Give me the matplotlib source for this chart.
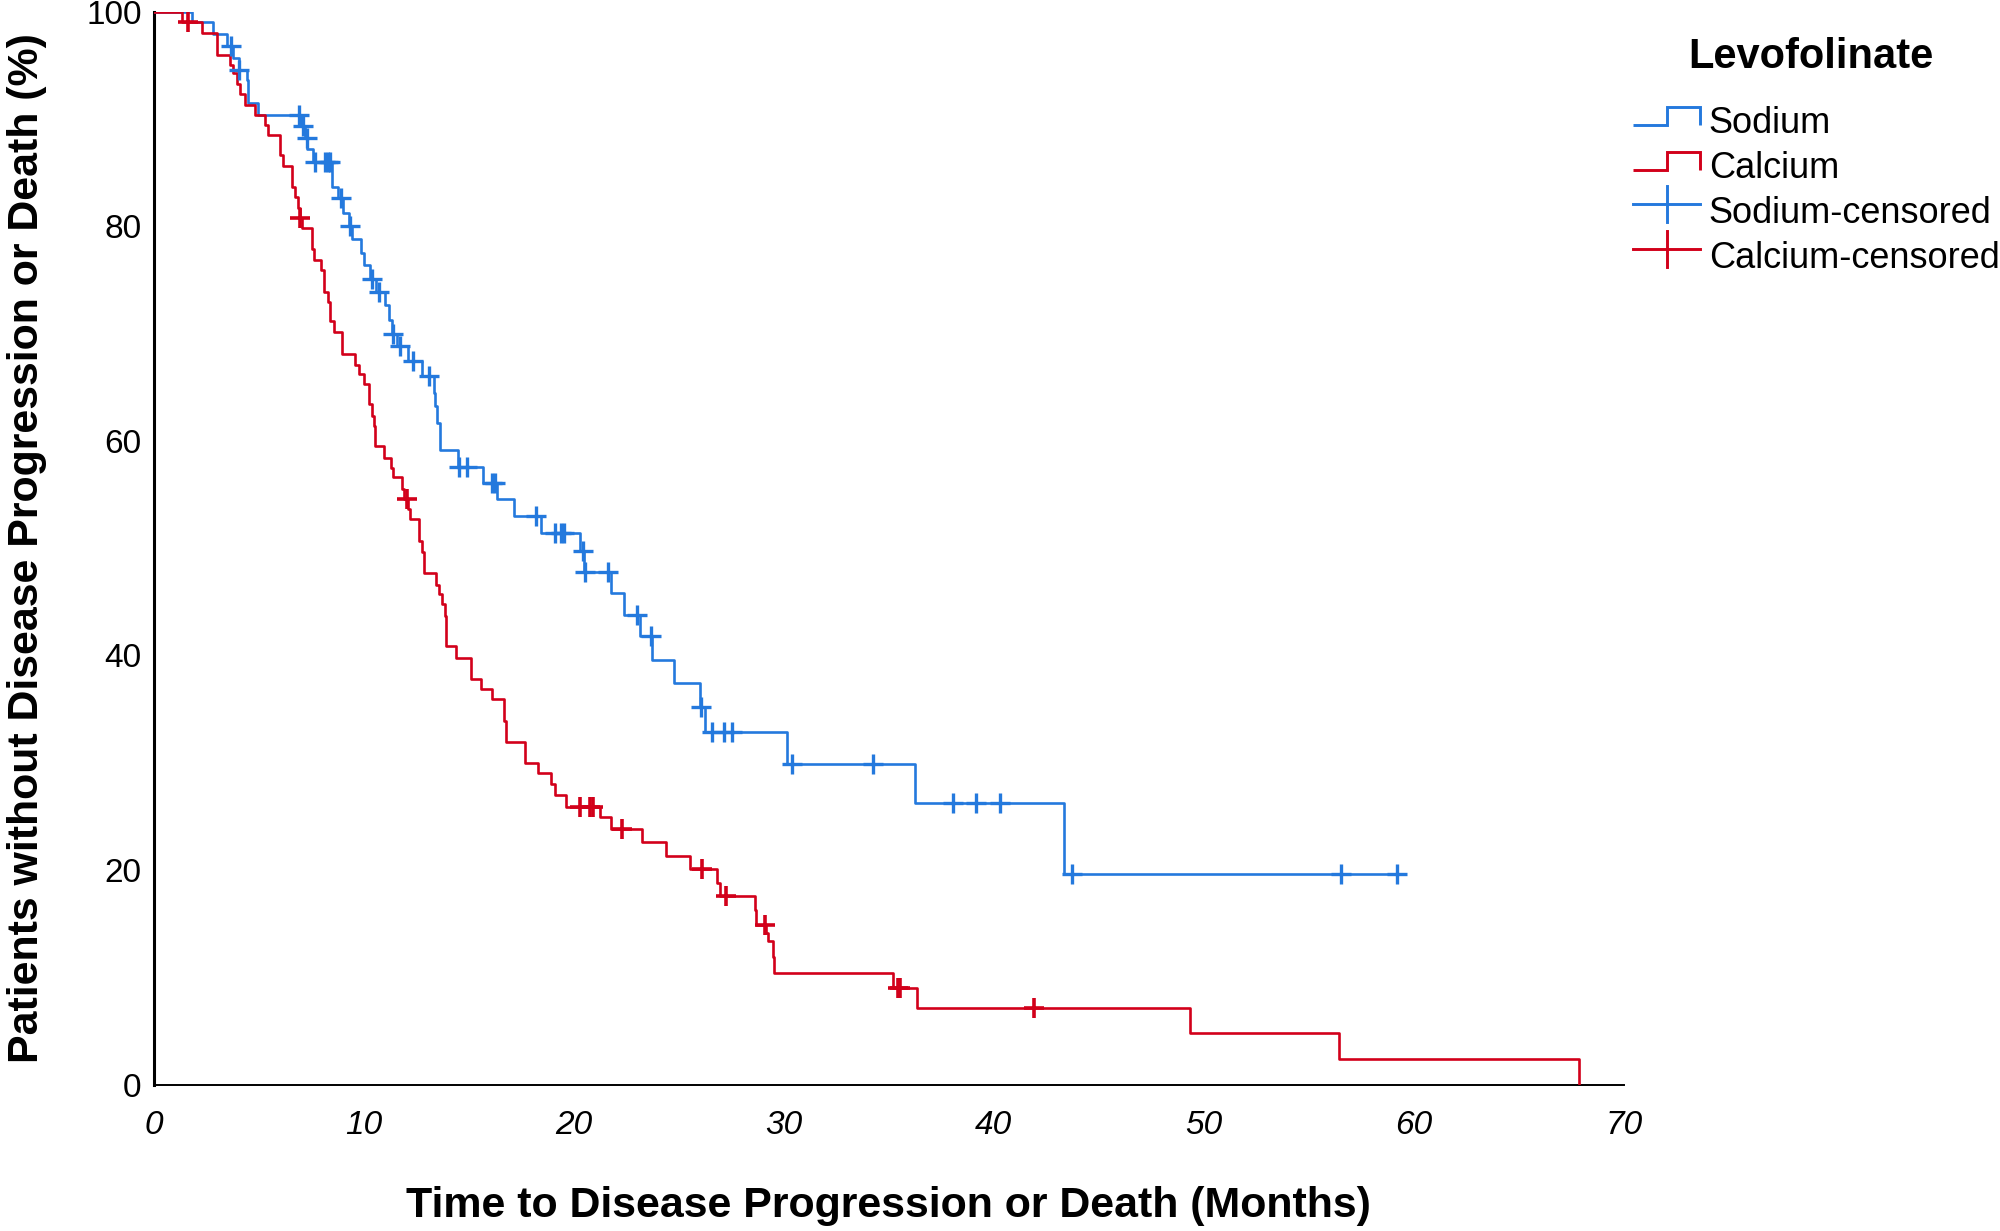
import numpy as np
import matplotlib
matplotlib.use("Agg")
import matplotlib.pyplot as plt
from matplotlib.legend_handler import HandlerBase
from matplotlib.lines import Line2D

plt.rcParams['font.family'] = ['Liberation Sans', 'DejaVu Sans']

# ---------------- data ----------------
# Sodium levofolinate: event times (months) and survival level after each step (%)
sodium_time = [0, 1.82, 2.85, 3.52, 3.80, 4.05, 4.44, 4.52, 4.99, 7.00, 7.20, 7.33,
               7.60, 8.48, 8.80, 9.04, 9.30, 9.45, 9.87, 10.0, 10.3, 10.6, 11.0,
               11.2, 11.35, 11.6, 12.1, 12.8, 13.35, 13.42, 13.5, 13.63, 14.49,
               15.67, 16.34, 17.18, 18.46, 20.31, 20.50, 21.80, 22.40, 23.14,
               23.72, 24.76, 26.0, 26.23, 30.16, 36.25, 43.35, 59.17]
sodium_surv = [100, 99.0, 97.9, 96.8, 95.7, 94.6, 93.6, 91.5, 90.4, 89.35, 88.26, 87.17,
               86.0, 83.7, 82.6, 81.2, 80.06, 78.8, 77.5, 76.4, 75.1, 73.9, 72.7,
               71.3, 70.0, 68.8, 67.4, 66.0, 64.5, 63.2, 61.7, 59.1, 57.6,
               56.1, 54.6, 53.0, 51.4, 49.7, 47.8, 45.8, 43.8, 41.8,
               39.6, 37.4, 35.2, 32.9, 29.9, 26.2, 19.6, 19.6]
sodium_censored = [3.68, 4.09, 6.94, 7.13, 7.29, 7.69, 8.17, 8.30, 8.40, 8.93, 9.36,
                   10.39, 10.75, 11.38, 11.75, 12.37, 13.13, 14.55, 14.94, 16.12,
                   16.27, 18.22, 19.13, 19.40, 19.55, 20.45, 20.55, 21.64, 23.02,
                   23.67, 26.06, 26.60, 27.15, 27.55, 30.40, 34.24, 38.05, 39.17,
                   40.31, 43.73, 56.53, 59.17]

# Calcium levofolinate
calcium_time = [0, 1.34, 2.29, 3.01, 3.64, 3.80, 3.96, 4.12, 4.36, 4.83, 5.31, 5.47,
                6.02, 6.15, 6.60, 6.75, 6.90, 6.95, 7.06, 7.55, 7.65, 7.95, 8.10,
                8.30, 8.40, 8.60, 8.95, 9.60, 9.80, 10.0, 10.25, 10.38, 10.51,
                10.56, 10.98, 11.29, 11.42, 11.84, 11.93, 12.11, 12.20, 12.66,
                12.79, 12.88, 13.43, 13.57, 13.72, 13.88, 13.94, 14.39, 15.12,
                15.58, 16.09, 16.67, 16.80, 17.67, 18.31, 18.91, 19.13, 19.63,
                21.23, 21.77, 23.25, 24.39, 25.55, 26.82, 26.95, 28.64, 28.70,
                29.17, 29.25, 29.48, 29.55, 35.20, 36.34, 49.36, 56.42, 67.85]
calcium_surv = [100, 99.0, 98.0, 96.0, 95.0, 94.3, 93.3, 92.3, 91.3, 90.4, 89.4, 88.5,
                86.6, 85.6, 83.7, 82.7, 81.7, 80.8, 79.8, 77.9, 76.9, 75.9, 73.9,
                72.9, 71.2, 70.1, 68.1, 67.1, 66.2, 65.3, 63.4, 62.3, 61.4,
                59.5, 58.4, 57.5, 56.6, 55.5, 54.6, 53.6, 52.7, 50.7,
                49.6, 47.7, 46.6, 45.7, 44.8, 43.7, 40.9, 39.8, 37.8,
                36.9, 35.9, 33.9, 31.9, 30.0, 29.0, 28.0, 27.0, 25.9,
                24.9, 23.8, 22.6, 21.3, 20.1, 18.8, 17.6, 16.3, 14.9,
                14.1, 13.4, 11.9, 10.4, 9.0, 7.1, 4.8, 2.4, 0.0]
calcium_censored = [1.64, 6.98, 12.06, 20.30, 20.80, 20.90, 22.30, 26.10, 27.25,
                    29.12, 35.42, 35.52, 41.90]

x_ticks = [0, 10, 20, 30, 40, 50, 60, 70]
y_ticks = [0, 20, 40, 60, 80, 100]

series_names = ["Sodium", "Calcium", "Sodium-censored", "Calcium-censored"]
legend_title = "Levofolinate"
x_label = "Time to Disease Progression or Death (Months)"
y_label = "Patients without Disease Progression or Death (%)"

BLUE = '#2479DD'
RED = '#D2001A'


def level_at(times, surv, t):
    times = np.asarray(times)
    idx = np.searchsorted(times, t, side='right') - 1
    return np.asarray(surv)[idx]


# ---------------- legend handlers ----------------
class StepHandler(HandlerBase):
    def create_artists(self, legend, orig_handle, xdescent, ydescent, width,
                       height, fontsize, trans):
        x0, y0 = -xdescent, -ydescent
        lo, hi = y0 + 0.33 * height, y0 + 1.04 * height
        xs = [x0, x0 + 0.5 * width, x0 + 0.5 * width, x0 + width, x0 + width]
        ys = [lo, lo, hi, hi, lo]
        ln = Line2D(xs, ys, color=orig_handle.get_color(), lw=2.1,
                    solid_joinstyle='miter', solid_capstyle='butt', transform=trans)
        return [ln]


class CensorHandler(HandlerBase):
    def create_artists(self, legend, orig_handle, xdescent, ydescent, width,
                       height, fontsize, trans):
        x0, y0 = -xdescent, -ydescent
        c = orig_handle.get_markeredgecolor()
        h = Line2D([x0, x0 + width], [y0 + 0.75 * height] * 2, color=c, lw=2.1,
                   transform=trans)
        v = Line2D([x0 + 0.5 * width] * 2, [y0 + 0.02 * height, y0 + 1.46 * height],
                   color=c, lw=2.1, transform=trans)
        return [h, v]


# ---------------- figure ----------------
fig = plt.figure(figsize=(20, 12.31), dpi=100)
ax = fig.add_axes([0.07675, 0.119, 0.7353, 0.8715])

s_line, = ax.step(sodium_time, sodium_surv, where='post', color=BLUE, lw=1.9, zorder=3)
c_line, = ax.step(calcium_time, calcium_surv, where='post', color=RED, lw=1.9, zorder=3)

s_cens, = ax.plot(sodium_censored, level_at(sodium_time, sodium_surv, sodium_censored),
                  ls='none', marker='+', ms=15, mew=2.4, color=BLUE, zorder=4)
c_cens, = ax.plot(calcium_censored, level_at(calcium_time, calcium_surv, calcium_censored),
                  ls='none', marker='+', ms=15, mew=2.6, color=RED, zorder=4)

ax.set_xlim(0, 70)
ax.set_ylim(0, 100)
ax.set_xticks(x_ticks)
ax.set_yticks(y_ticks)
ax.tick_params(axis='both', length=0, labelsize=24)
ax.tick_params(axis='x', pad=18)
ax.tick_params(axis='y', pad=8.5)
for lab in ax.get_xticklabels():
    lab.set_fontstyle('italic')

for side in ['top', 'right']:
    ax.spines[side].set_visible(False)
ax.spines['left'].set_linewidth(2.2)
ax.spines['bottom'].set_linewidth(1.4)
ax.spines['left'].set_color('black')
ax.spines['bottom'].set_color('black')

ax.set_xlabel(x_label, fontsize=30.9, fontweight='bold')
ax.set_ylabel(y_label, fontsize=30.9, fontweight='bold')
ax.xaxis.set_label_coords(0.5, -0.095)
ax.yaxis.set_label_coords(-0.0725, 0.5)

fig.text(0.9055, 0.9448, legend_title, fontsize=30, fontweight='bold',
         ha='center', va='baseline')

leg = fig.legend(handles=[s_line, c_line, s_cens, c_cens], labels=series_names,
                 handler_map={s_line: StepHandler(), c_line: StepHandler(),
                              s_cens: CensorHandler(), c_cens: CensorHandler()},
                 loc='upper left', bbox_to_anchor=(0.8165, 0.9136),
                 frameon=False, fontsize=26, borderpad=0, borderaxespad=0,
                 handlelength=1.86, handletextpad=0.24, labelspacing=0.27)

fig.savefig('out.png', dpi=100)
